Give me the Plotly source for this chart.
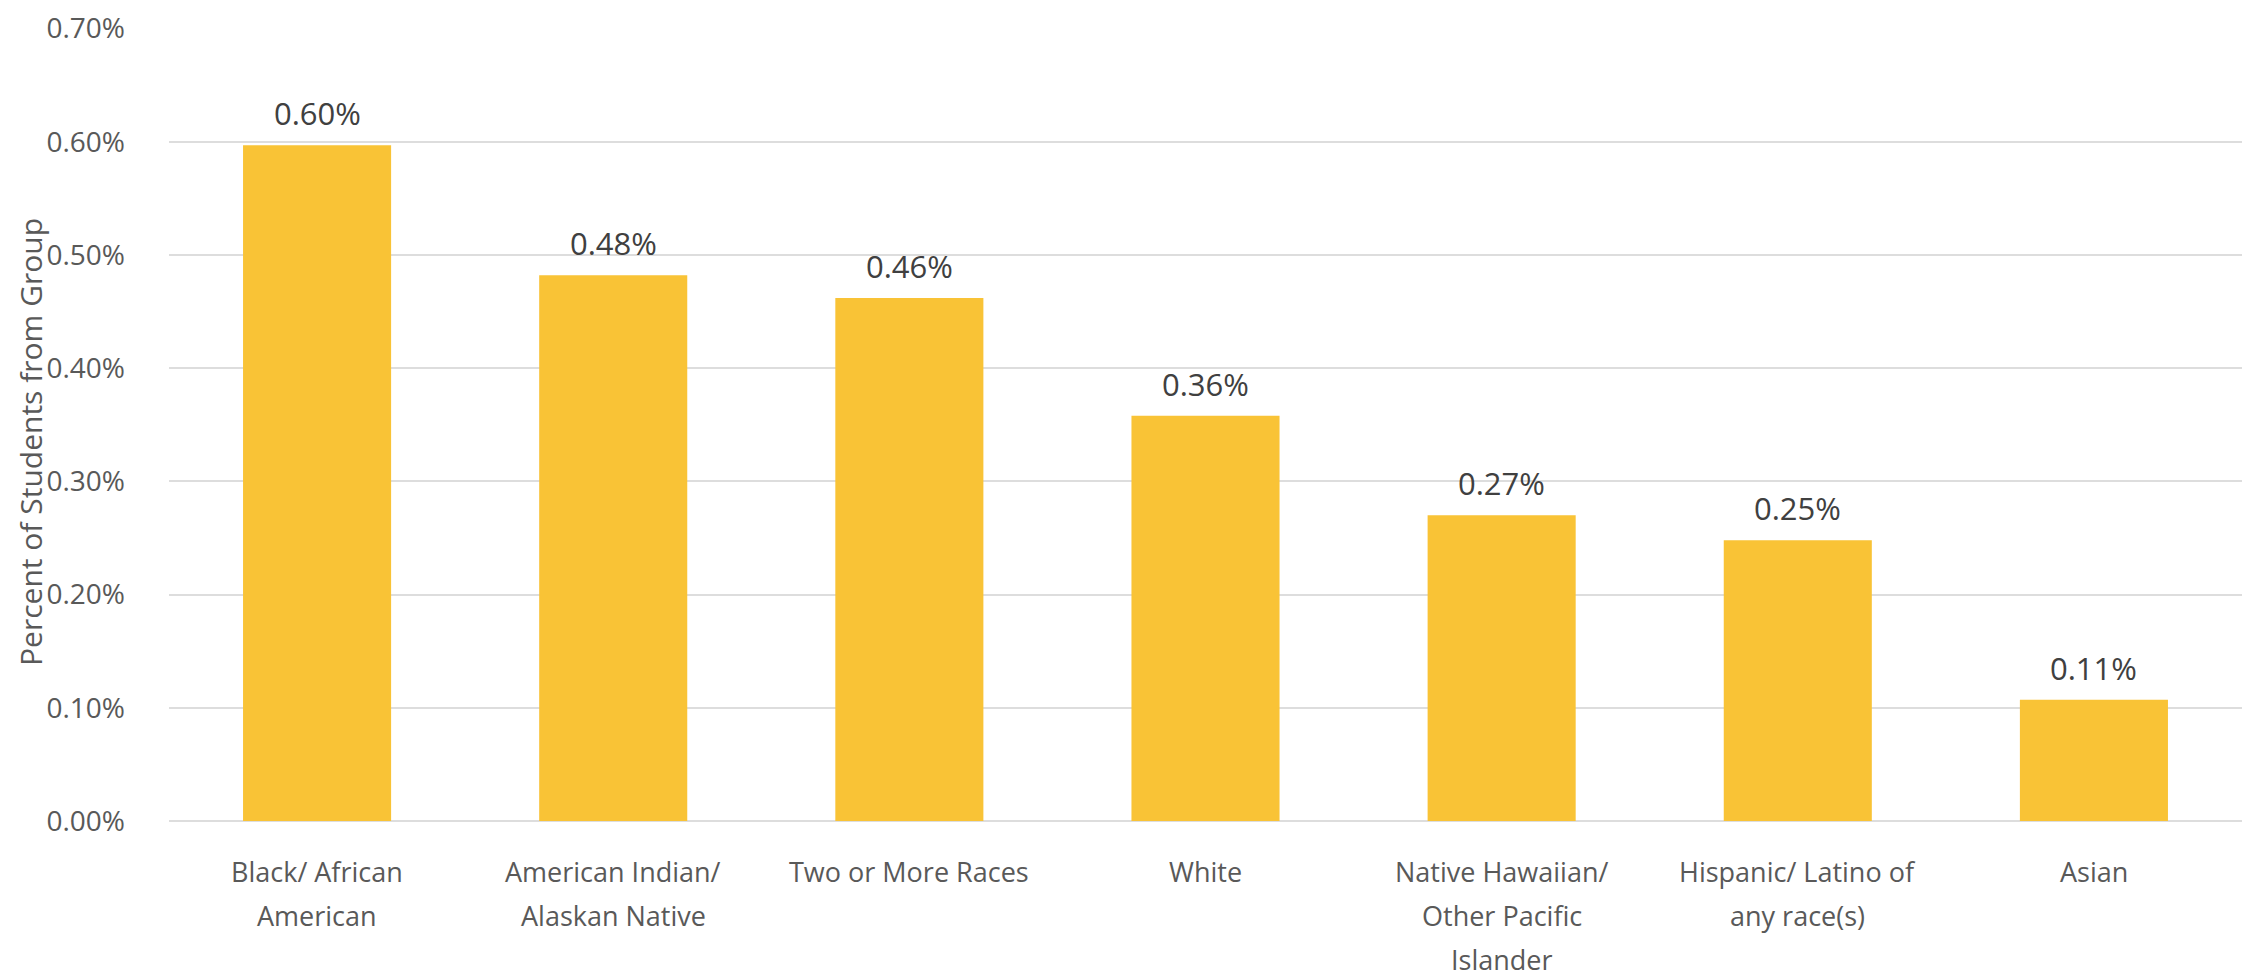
import plotly.graph_objects as go

# Share of students from each group (percent)
groups = [
    "Black/ African American",
    "American Indian/ Alaskan Native",
    "Two or More Races",
    "White",
    "Native Hawaiian/ Other Pacific Islander",
    "Hispanic/ Latino of any race(s)",
    "Asian",
]
# How each group name is broken over lines under the axis
group_label_lines = [
    ["Black/ African", "American"],
    ["American Indian/", "Alaskan Native"],
    ["Two or More Races"],
    ["White"],
    ["Native Hawaiian/", "Other Pacific", "Islander"],
    ["Hispanic/ Latino of", "any race(s)"],
    ["Asian"],
]
percent_values = [0.597, 0.482, 0.462, 0.358, 0.270, 0.248, 0.107]
y_ticks = [0.0, 0.1, 0.2, 0.3, 0.4, 0.5, 0.6, 0.7]
y_tick_labels = [f"{v:.2f}%" for v in y_ticks]

BAR_COLOR = "#F9C336"
FONT = "Open Sans"
AXIS_TEXT = "#595959"

fig = go.Figure(
    go.Bar(
        x=groups,
        y=percent_values,
        marker=dict(color=BAR_COLOR, line=dict(width=0)),
        hoverinfo="skip",
    )
)

# Value labels above each bar
for g, v in zip(groups, percent_values):
    fig.add_annotation(
        x=g, y=v, text=f"{v:.2f}%", showarrow=False,
        yanchor="bottom", yshift=9,
        font=dict(family=FONT, size=31, color="#404040"),
    )

# Category labels under the axis, one annotation per line for wider leading
LINE_STEP = 44
for g, lines in zip(groups, group_label_lines):
    for i, line in enumerate(lines):
        fig.add_annotation(
            x=g, xref="x", y=0, yref="paper", text=line, showarrow=False,
            yanchor="middle", yshift=-50 - i * LINE_STEP,
            font=dict(family=FONT, size=27, color=AXIS_TEXT),
        )

# Vertical axis title
fig.add_annotation(
    text="Percent of Students from Group", textangle=-90, showarrow=False,
    xref="paper", x=0, xanchor="center", xshift=-138,
    yref="paper", y=0.478, yanchor="middle",
    font=dict(family=FONT, size=30, color=AXIS_TEXT),
)

fig.update_layout(
    width=2250, height=980,
    margin=dict(l=169, r=8, t=21, b=159),
    paper_bgcolor="white", plot_bgcolor="white",
    bargap=0.5,
    showlegend=False,
    font=dict(family=FONT, color=AXIS_TEXT),
)
fig.update_xaxes(
    showgrid=False, showline=False, ticks="", showticklabels=False,
)
fig.update_yaxes(
    range=[0, 0.7005],
    tickvals=y_ticks, ticktext=y_tick_labels,
    showgrid=True, gridcolor="#DDDDDD", gridwidth=2,
    zeroline=True, zerolinecolor="#DDDDDD", zerolinewidth=2,
    showline=False, ticks="",
    tickfont=dict(family=FONT, size=28, color=AXIS_TEXT),
    ticklabelstandoff=43,
)

fig.write_html("out.html")
